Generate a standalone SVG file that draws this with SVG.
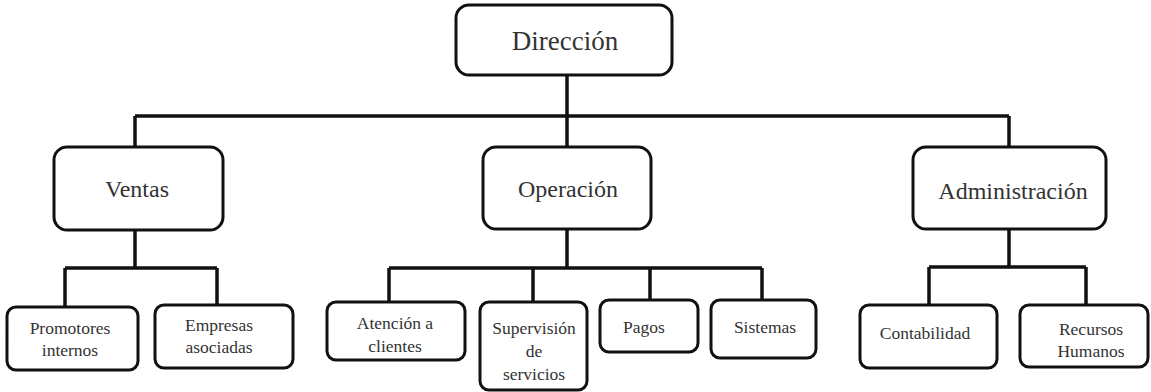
<svg xmlns="http://www.w3.org/2000/svg" width="1151" height="392" viewBox="0 0 1151 392">
<style>
.box{fill:#fff;stroke:#111;stroke-width:3}
.ln{fill:none;stroke:#111;stroke-width:3.5;stroke-linejoin:miter}
text{font-family:"Liberation Serif","Times New Roman",serif;fill:#333;text-anchor:middle}
.big{font-size:24px}
.sm{font-size:17.5px}
</style>
<rect width="1151" height="392" fill="#fff"/>
<g id="connectors">
<path class="ln" d="M567 75V116M135 116H1009M135 116V147M567 116V147M1009 116V147"/>
<path class="ln" d="M135 230V268M65 268H217M65 268V307M217 268V305"/>
<path class="ln" d="M567 229V268M389 268H762M389 268V302M533 268V302M650 268V300M762 268V300"/>
<path class="ln" d="M1009 229V267M929 267H1086M929 267V305M1086 267V305"/>
</g>
<g id="direccion"><rect class="box" x="456" y="5" width="216" height="70" rx="13"/><text x="565" y="50" style="font-size:27px">Dirección</text></g>
<g id="ventas"><rect class="box" x="54" y="147" width="169" height="83" rx="13"/><text class="big" x="137" y="197">Ventas</text></g>
<g id="operacion"><rect class="box" x="483" y="147" width="168" height="82" rx="13"/><text class="big" x="568" y="197">Operación</text></g>
<g id="administracion"><rect class="box" x="913" y="147" width="193" height="82" rx="13"/><text class="big" x="1013" y="199">Administración</text></g>
<g id="promotores"><rect class="box" x="7" y="307" width="131" height="63" rx="9"/><text class="sm" x="70" y="334">Promotores</text><text class="sm" x="70" y="356">internos</text></g>
<g id="empresas"><rect class="box" x="155" y="305" width="138" height="63" rx="9"/><text class="sm" x="219" y="331">Empresas</text><text class="sm" x="219" y="353">asociadas</text></g>
<g id="atencion"><rect class="box" x="327" y="302" width="138" height="58" rx="9"/><text class="sm" x="395" y="329">Atención a</text><text class="sm" x="395" y="352">clientes</text></g>
<g id="supervision"><rect class="box" x="480" y="302" width="107" height="88" rx="9"/><text class="sm" x="534" y="334">Supervisión</text><text class="sm" x="534" y="357">de</text><text class="sm" x="534" y="380">servicios</text></g>
<g id="pagos"><rect class="box" x="600" y="300" width="98" height="52" rx="9"/><text class="sm" x="644" y="333">Pagos</text></g>
<g id="sistemas"><rect class="box" x="711" y="300" width="105" height="58" rx="9"/><text class="sm" x="765" y="333">Sistemas</text></g>
<g id="contabilidad"><rect class="box" x="860" y="305" width="137" height="63" rx="9"/><text class="sm" x="925" y="339">Contabilidad</text></g>
<g id="recursos"><rect class="box" x="1020" y="305" width="128" height="62" rx="9"/><text class="sm" x="1091" y="335">Recursos</text><text class="sm" x="1091" y="357">Humanos</text></g>
</svg>
